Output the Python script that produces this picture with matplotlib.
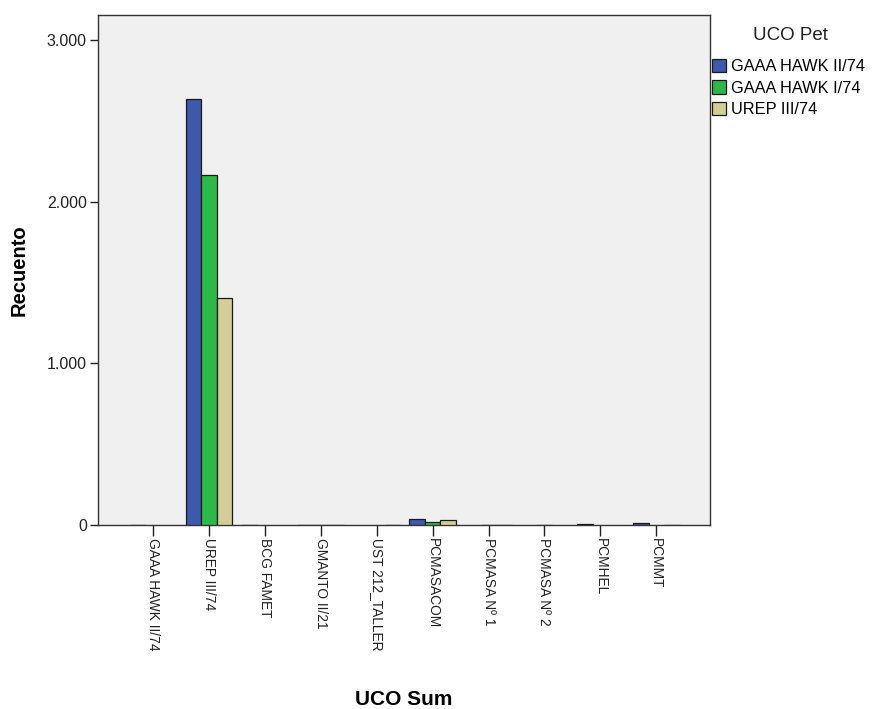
import numpy as np
import matplotlib
matplotlib.use("Agg")
import matplotlib.pyplot as plt
from matplotlib.patches import Patch
from matplotlib.ticker import FuncFormatter

plt.rcParams['font.family'] = ['Liberation Sans', 'DejaVu Sans']

categories = ["GAAA HAWK II/74", "UREP III/74", "BCG FAMET", "GMANTO II/21",
              "UST 212_TALLER", "PCMASACOM", "PCMASA Nº 1", "PCMASA Nº 2",
              "PCMHEL", "PCMMT"]
series_names = ["GAAA HAWK II/74", "GAAA HAWK I/74", "UREP III/74"]
nan = np.nan
vals_hawk2 = [2, 2635, 2, 2, nan, 39, nan, nan, 8, 14]
vals_hawk1 = [nan, 2165, nan, 2, nan, 16, 2, 2, nan, nan]
vals_urep = [nan, 1405, nan, 2, 2, 31, 2, nan, nan, 2]
series_values = [vals_hawk2, vals_hawk1, vals_urep]
colors = ["#3E58AC", "#2EB848", "#D3CE97"]
yticks = [0, 1000, 2000, 3000]

fig = plt.figure(figsize=(8.72, 7.09), dpi=100)
ax = fig.add_axes([98/872, 1-525/709, 612/872, 510/709])
ax.set_facecolor("#F0F0F0")

x = np.arange(len(categories))
w = 0.279
for k, (vals, col) in enumerate(zip(series_values, colors)):
    v = np.array(vals, dtype=float)
    m = ~np.isnan(v)
    ax.bar(x[m] + (k - 1) * w, v[m], width=w, color=col,
           edgecolor="#1a1a1a", linewidth=0.9, zorder=3)

ax.set_xlim(-0.984, 9.96)
ax.set_ylim(0, 3154)
ax.set_yticks(yticks)
ax.yaxis.set_major_formatter(FuncFormatter(lambda v, p: f"{int(v):,}".replace(",", ".")))
ax.set_xticks(x)
ax.set_xticklabels(categories, rotation=-90, va="top", ha="center", fontsize=9.9)
ax.tick_params(axis="y", labelsize=11.5, length=6, width=1, colors="#222222", pad=2)
ax.tick_params(axis="x", length=8, width=1, colors="#222222", pad=1)
for s in ax.spines.values():
    s.set_color("#333333")
    s.set_linewidth(1)

ax.set_ylabel("Recuento", fontsize=14.5, fontweight="bold", labelpad=13)
ax.set_xlabel("UCO Sum", fontsize=15, fontweight="bold", labelpad=29)

fig.text(790/872, 1-35/709, "UCO Pet", fontsize=13.5, ha="center", va="center",
         color="#222222")
handles = [Patch(facecolor=c, edgecolor="#1a1a1a", linewidth=0.9) for c in colors]
fig.legend(handles, series_names, loc="upper left",
           bbox_to_anchor=(712/872, 1-59/709), bbox_transform=fig.transFigure,
           frameon=False, fontsize=11.8, handlelength=0.85,
           handleheight=0.85, handletextpad=0.3, labelspacing=0.38,
           borderaxespad=0, borderpad=0)

fig.savefig("out.png", dpi=100)
